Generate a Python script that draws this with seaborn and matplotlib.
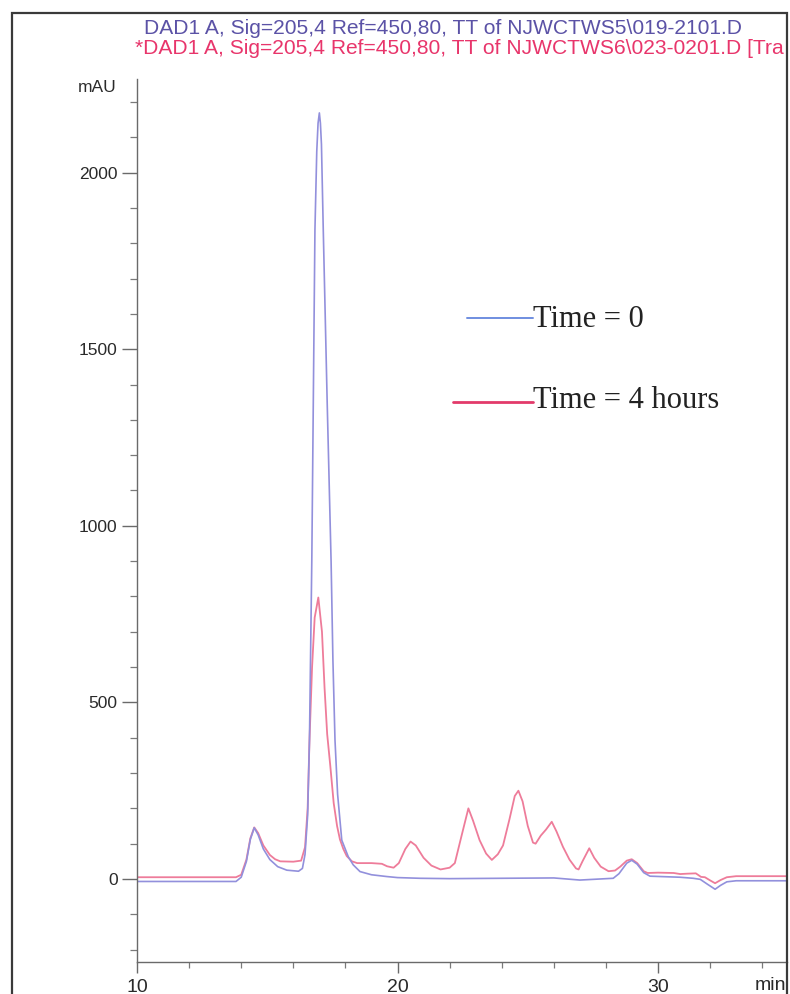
import matplotlib
matplotlib.use("Agg")
import matplotlib.pyplot as plt
from matplotlib.lines import Line2D
from matplotlib.patches import Rectangle
from matplotlib.ticker import MultipleLocator
import numpy as np
import pandas as pd
import seaborn as sns

# Chromatogram traces (retention time in min, absorbance in mAU)
t0_time = [10.0, 13.8, 14.0, 14.2, 14.35, 14.5, 14.65, 14.85, 15.1, 15.4, 15.75, 16.2,
           16.35, 16.45, 16.55, 16.62, 16.71, 16.78, 16.83, 16.9, 16.95, 17.0, 17.04,
           17.08, 17.15, 17.3, 17.45, 17.52, 17.6, 17.7, 17.86, 18.11, 18.3, 18.56,
           19.0, 19.58, 20.0, 20.86, 22.0, 24.0, 26.0, 27.0, 28.28, 28.5, 28.8, 28.99,
           29.2, 29.45, 29.69, 30.84, 31.35, 31.62, 31.9, 32.19, 32.4, 32.64, 33.0, 35.0]
t0_mau = [-7, -7, 5, 50, 112, 145, 125, 85, 55, 35, 25, 22,
          30, 70, 180, 393, 903, 1450, 1837, 2060, 2140, 2169, 2140,
          2080, 1837, 1350, 900, 620, 393, 240, 110, 63, 40, 21,
          12, 7, 4, 2, 1, 2, 3, -3, 2, 15, 45, 53,
          42, 18, 8, 5, 2, -1, -15, -29, -18, -8, -5, -5]

t4_time = [10.0, 13.8, 14.0, 14.2, 14.35, 14.5, 14.65, 14.85, 15.1, 15.3, 15.5, 16.0,
           16.3, 16.45, 16.55, 16.62, 16.72, 16.82, 16.96, 17.1, 17.2, 17.3, 17.42,
           17.55, 17.68, 17.79, 17.92, 18.05, 18.25, 18.45, 19.0, 19.4, 19.6, 19.85,
           20.05, 20.3, 20.5, 20.7, 21.0, 21.3, 21.65, 22.0, 22.2, 22.45, 22.72, 22.9,
           23.15, 23.4, 23.62, 23.85, 24.05, 24.3, 24.5, 24.64, 24.8, 25.0, 25.2, 25.3,
           25.5, 25.7, 25.92, 26.1, 26.35, 26.6, 26.85, 26.95, 27.1, 27.36, 27.55,
           27.8, 28.1, 28.35, 28.55, 28.8, 28.99, 29.2, 29.45, 29.6, 30.0, 30.6,
           30.85, 31.1, 31.45, 31.65, 31.8, 32.0, 32.19, 32.4, 32.64, 33.0, 35.0]
t4_mau = [5, 5, 12, 55, 115, 146, 130, 95, 68, 56, 50, 49,
          52, 90, 200, 390, 600, 740, 797, 700, 540, 410, 320,
          215, 150, 112, 85, 65, 50, 45, 45, 43, 36, 32,
          45, 85, 106, 95, 60, 38, 27, 32, 45, 120, 200, 165,
          110, 72, 54, 70, 95, 170, 235, 250, 220, 150, 103, 100,
          123, 140, 162, 135, 91, 55, 30, 27, 50, 87, 60,
          35, 22, 24, 35, 52, 56, 45, 22, 17, 18, 17,
          14, 15, 16, 6, 5, -4, -12, -3, 5, 8, 8]

series_labels = ["Time = 0", "Time = 4 hours"]
header_lines = [r"DAD1 A, Sig=205,4 Ref=450,80, TT of NJWCTWS5\019-2101.D",
                r"*DAD1 A, Sig=205,4 Ref=450,80, TT of NJWCTWS6\023-0201.D [Tra"]
y_ticks = [0, 500, 1000, 1500, 2000]
x_ticks = [10, 20, 30]

sns.set_theme(style="white")
plt.rcParams["font.family"] = ["Liberation Sans", "DejaVu Sans"]

W, H = 790, 994
fig = plt.figure(figsize=(W / 100, H / 100), dpi=100)
ax = fig.add_axes([137 / W, 1 - 962 / H, (787 - 137) / W, (962 - 79) / H])

blue = "#9290dc"
red = "#ee7c9a"

df0 = pd.DataFrame({"time": t0_time, "mAU": t0_mau})
df4 = pd.DataFrame({"time": t4_time, "mAU": t4_mau})
sns.lineplot(data=df4, x="time", y="mAU", ax=ax, color=red, lw=1.3,
             sort=False, estimator=None)
sns.lineplot(data=df0, x="time", y="mAU", ax=ax, color=blue, lw=1.2,
             sort=False, estimator=None)

ax.set_xlim(10, 34.95)
ax.set_ylim(-235, 2265)
ax.set_xlabel("")
ax.set_ylabel("")

for side in ("top", "right"):
    ax.spines[side].set_visible(False)
for side in ("left", "bottom"):
    ax.spines[side].set_color("#6a6a6a")
    ax.spines[side].set_linewidth(1.0)

ax.set_yticks(y_ticks)
ax.set_yticklabels([str(v) for v in y_ticks])
ax.yaxis.set_minor_locator(MultipleLocator(100))
ax.set_xticks(x_ticks)
ax.set_xticklabels([str(v) for v in x_ticks])
ax.xaxis.set_minor_locator(MultipleLocator(2))
ax.tick_params(axis="y", which="major", direction="out", length=11, width=1.0,
               color="#6a6a6a", labelsize=12.5, labelcolor="#2a2a2a", pad=3, left=True)
ax.tick_params(axis="y", which="minor", direction="out", length=5, width=0.9,
               color="#7a7a7a", left=True)
ax.tick_params(axis="x", which="major", direction="out", length=8, width=1.0,
               color="#6a6a6a", labelsize=14, labelcolor="#2a2a2a", pad=4, bottom=True)
ax.tick_params(axis="x", which="minor", direction="out", length=4, width=0.9,
               color="#7a7a7a", bottom=True)

# Axis unit labels
fig.text(117 / W, 1 - 88 / H, "mAU", ha="right", va="center", fontsize=12.5, color="#2a2a2a")
fig.text(770 / W, 1 - 986 / H, "min", ha="center", va="center", fontsize=14, color="#2a2a2a")

# Signal headers
fig.text(144 / W, 1 - 28 / H, header_lines[0], ha="left", va="center",
         fontsize=15.1, color="#5b52a6")
fig.text(135 / W, 1 - 48 / H, header_lines[1], ha="left", va="center",
         fontsize=15.1, color="#e8356b")

# Key drawn beside the traces
fig.add_artist(Line2D([467 / W, 533 / W], [1 - 318 / H, 1 - 318 / H],
                      color="#6f8ee0", lw=1.4, transform=fig.transFigure))
fig.add_artist(Line2D([453 / W, 533 / W], [1 - 402 / H, 1 - 402 / H],
                      color="#e23a6a", lw=2.0, transform=fig.transFigure))
fig.text(533 / W, 1 - 327 / H, series_labels[0], ha="left", va="baseline",
         fontsize=22, family="Liberation Serif", color="#222222")
fig.text(533 / W, 1 - 408 / H, series_labels[1], ha="left", va="baseline",
         fontsize=22, family="Liberation Serif", color="#222222")

# Outer page frame
fig.add_artist(Rectangle((12 / W, -0.02), (787 - 12) / W, (1 - 13 / H) + 0.02,
                         fill=False, edgecolor="#3a3a3a", lw=1.6,
                         transform=fig.transFigure))

fig.savefig("out.png", dpi=100, facecolor="white")
